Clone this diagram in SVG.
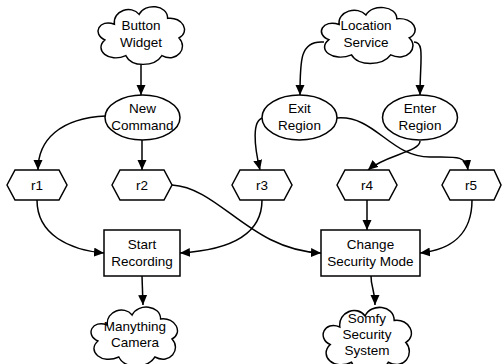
<svg xmlns="http://www.w3.org/2000/svg" width="502" height="364" viewBox="0 0 502 364">
<style>
.s{fill:#fff;stroke:#000;stroke-width:1.5}
.t{font-family:"Liberation Sans",Arial,sans-serif;font-size:13.5px;fill:#000;text-anchor:middle}
.c{fill:none;stroke:#000;stroke-width:1.5;marker-end:url(#ah)}
</style>
<defs>
<marker id="ah" markerUnits="userSpaceOnUse" markerWidth="12" markerHeight="10" refX="10" refY="4.5" orient="auto">
<path d="M0,0 L10,4.5 L0,9 Z" fill="#000"/>
</marker>
<path id="cloud" d="M-28,-10 C-30,-24 -10,-30 -2,-20 C4,-32 28,-30 28,-16 C44,-18 52,-2 40,4 C50,14 38,30 22,22 C14,34 -10,34 -16,22 C-34,30 -50,16 -38,6 C-52,0 -44,-16 -28,-10 Z"/>
</defs>
<rect width="502" height="364" fill="#fff"/>
<g id="connectors">
<path class="c" d="M141,63 L141,95"/>
<path class="c" d="M324,42 C300,40 300,60 300,95"/>
<path class="c" d="M414,42 C425,42 420,60 420,95"/>
<path class="c" d="M106,116 C60,118 38,140 38,170"/>
<path class="c" d="M142,140 L142,170"/>
<path class="c" d="M263,118 C252,120 254,145 260,170"/>
<path class="c" d="M337,118 C375,115 390,157 430,157 C455,157 466,155 468,170"/>
<path class="c" d="M420,141 C420,152 385,155 368,170"/>
<path class="c" d="M37,200 C37,235 70,250 104,253"/>
<path class="c" d="M172,185 C220,188 250,250 321,253"/>
<path class="c" d="M262,200 C262,235 230,250 180,253"/>
<path class="c" d="M367,200 L367,230"/>
<path class="c" d="M472,200 C472,235 450,250 420,253"/>
<path class="c" d="M142,276 L143,305"/>
<path class="c" d="M371,276 C371,288 375,290 375,305"/>
</g>
<g id="button-widget">
<use href="#cloud" class="s" transform="translate(141,34) scale(0.95,0.98)"/>
<text class="t" x="141" y="30">Button</text><text class="t" x="141" y="47">Widget</text>
</g>
<g id="location-service">
<use href="#cloud" class="s" transform="translate(368,34) scale(1.03,0.95)"/>
<text class="t" x="366" y="30">Location</text><text class="t" x="366" y="47">Service</text>
</g>
<g id="new-command">
<ellipse class="s" cx="142.5" cy="117.5" rx="37.5" ry="22.5"/>
<text class="t" x="142.5" y="113">New</text><text class="t" x="142.5" y="130">Command</text>
</g>
<g id="exit-region">
<ellipse class="s" cx="299.5" cy="117.5" rx="37.5" ry="22.5"/>
<text class="t" x="299.5" y="113">Exit</text><text class="t" x="299.5" y="130">Region</text>
</g>
<g id="enter-region">
<ellipse class="s" cx="420" cy="117.5" rx="37.5" ry="22.5"/>
<text class="t" x="420" y="113">Enter</text><text class="t" x="420" y="130">Region</text>
</g>
<g id="r1"><polygon class="s" points="7,185 15,170 59,170 67,185 59,200 15,200"/><text class="t" x="37" y="190">r1</text></g>
<g id="r2"><polygon class="s" points="112,185 120,170 164,170 172,185 164,200 120,200"/><text class="t" x="142" y="190">r2</text></g>
<g id="r3"><polygon class="s" points="232,185 240,170 284,170 292,185 284,200 240,200"/><text class="t" x="262" y="190">r3</text></g>
<g id="r4"><polygon class="s" points="337,185 345,170 389,170 397,185 389,200 345,200"/><text class="t" x="367" y="190">r4</text></g>
<g id="r5"><polygon class="s" points="442,185 450,170 494,170 501,185 494,200 450,200"/><text class="t" x="471" y="190">r5</text></g>
<g id="start-recording">
<rect class="s" x="104" y="230" width="76" height="46"/>
<text class="t" x="142" y="249">Start</text><text class="t" x="142" y="266">Recording</text>
</g>
<g id="change-security-mode">
<rect class="s" x="321" y="230" width="99" height="46"/>
<text class="t" x="370.5" y="249">Change</text><text class="t" x="370.5" y="266">Security Mode</text>
</g>
<g id="manything-camera">
<use href="#cloud" class="s" transform="translate(134,335) scale(0.95,1)"/>
<text class="t" x="135" y="331">Manything</text><text class="t" x="135" y="347">Camera</text>
</g>
<g id="somfy">
<use href="#cloud" class="s" transform="translate(367,338) scale(0.97,1.1)"/>
<text class="t" x="367" y="323">Somfy</text><text class="t" x="367" y="339">Security</text><text class="t" x="367" y="355">System</text>
</g>
</svg>
